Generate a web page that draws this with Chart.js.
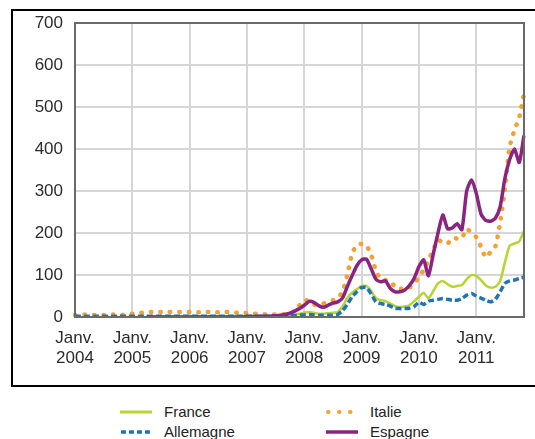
<!DOCTYPE html>
<html>
<head>
<meta charset="utf-8">
<script src="https://cdn.jsdelivr.net/npm/chart.js@4.4.1/dist/chart.umd.min.js"></script>
<style>
  body { margin: 0; background: #fff; width: 535px; height: 439px; overflow: hidden; position: relative; font-family: "Liberation Sans", Arial, sans-serif; }
  #box { position: absolute; left: 11px; top: 9px; width: 540px; height: 374px; border: 2px solid #000; }
  #wrap { position: absolute; left: 0; top: 0; width: 535px; height: 390px; }
  .leg { position: absolute; font-size: 15px; color: #222; line-height: 18px; }
  .leg svg { position: absolute; top: 5px; }
  .leg span { position: absolute; white-space: nowrap; }
</style>
</head>
<body>
<div id="box"></div>
<div id="wrap"><canvas id="myChart" width="535" height="390"></canvas></div>

<div class="leg" style="left:120px; top:403px;">
  <svg width="34" height="8"><line x1="0" y1="4" x2="32" y2="4" stroke="#b8d432" stroke-width="3"/></svg>
  <span style="left:44px;">France</span>
</div>
<div class="leg" style="left:120px; top:423px;">
  <svg width="34" height="8"><line x1="1" y1="4" x2="32" y2="4" stroke="#1f74b5" stroke-width="3.5" stroke-dasharray="5,3"/></svg>
  <span style="left:44px;">Allemagne</span>
</div>
<div class="leg" style="left:326px; top:403px;">
  <svg width="34" height="8"><line x1="2" y1="4" x2="30" y2="4" stroke="#f7a032" stroke-width="4" stroke-linecap="round" stroke-dasharray="0.5,10.5"/></svg>
  <span style="left:44px;">Italie</span>
</div>
<div class="leg" style="left:326px; top:423px;">
  <svg width="34" height="8"><line x1="0" y1="4" x2="32" y2="4" stroke="#8a2480" stroke-width="3.5"/></svg>
  <span style="left:44px;">Espagne</span>
</div>

<script>
// data block (monthly, Jan 2004 - Nov 2011)
const years = ['2004', '2005', '2006', '2007', '2008', '2009', '2010', '2011'];
const monthsInLastYear = 11;
const yTicks = [0, 100, 200, 300, 400, 500, 600, 700];

const france = [
  null, null, null, null, null, null, null, null, null, null, null, null,
  null, null, null, 1, 1, 1, 1, 1, 1, 1, 1, 1,
  1, 1, 1, 1, 1, 1, 1, 1, 1, 1, 1, 1,
  1, 1, 1, 1, 1, 1, 2, 2, 3, 4, 6, 8,
  10, 12, 10, 8, 8, 9, 10, 12, 25, 45, 58, 66,
  74, 74, 62, 45, 40, 38, 32, 26, 24, 25, 28, 38,
  48, 58, 45, 62, 80, 86, 78, 72, 74, 76, 90, 100,
  98, 88, 75, 70, 72, 85, 130, 170, 175, 180, 205
];
const italie = [
  5, 5, 6, 5, 5, 6, 5, 5, 6, 5, 5, 6,
  8, 9, 10, 12, 12, 12, 12, 11, 12, 12, 12, 12,
  12, 12, 11, 12, 12, 12, 11, 12, 12, 11, 10, 10,
  9, 8, 8, 7, 6, 6, 6, 6, 7, 8, 15, 28,
  40, 38, 30, 28, 32, 37, 40, 45, 60, 100, 150, 172,
  174, 170, 148, 110, 90, 88, 85, 72, 68, 66, 70, 80,
  95, 112, 136, 160, 183, 178, 175, 188, 187, 188, 210, 200,
  190, 167, 142, 155, 168, 225, 305, 405, 445, 475, 532
];
const allemagne = [
  2, 2, 2, 2, 2, 2, 2, 2, 2, 2, 2, 2,
  2, 2, 2, 2, 2, 2, 2, 2, 2, 2, 2, 2,
  2, 2, 2, 2, 2, 2, 2, 2, 2, 2, 2, 2,
  2, 2, 2, 2, 2, 2, 3, 3, 3, 3, 3, 4,
  5, 6, 5, 4, 4, 4, 4, 6, 15, 30, 48, 60,
  70, 70, 55, 36, 32, 30, 26, 21, 20, 20, 21, 25,
  35, 30, 38, 40, 42, 44, 42, 40, 40, 44, 52, 56,
  50, 45, 40, 36, 42, 60, 80, 86, 88, 92, 95
];
const espagne = [
  null, null, null, null, null, null, null, null, null, null, null, null,
  null, null, null, 0, 0, 0, 0, 0, 0, 0, 0, 0,
  0, 0, 0, 0, 0, 0, 0, 0, 0, 0, 0, 0,
  1, 1, 1, 2, 2, 2, 3, 4, 6, 9, 14, 20,
  28, 37, 35, 27, 23, 28, 33, 36, 45, 72, 98, 122,
  136, 138, 115, 90, 84, 86, 68, 60, 60, 64, 75, 92,
  120, 136, 98, 150, 200, 243, 210, 212, 222, 208, 300, 326,
  295, 245, 230, 228, 235, 262, 330, 375, 400, 368, 432
];

// month labels, one per point
const labels = [];
years.forEach((y, i) => {
  const n = i === years.length - 1 ? monthsInLastYear : 12;
  for (let m = 0; m < n; m++) labels.push(y + '-' + (m + 1));
});

// frame of the plot area
const plotFrame = {
  id: 'plotFrame',
  afterDraw(chart) {
    const {ctx, chartArea: {left, top, right, bottom}} = chart;
    ctx.save();
    ctx.strokeStyle = '#6a6a6a';
    ctx.lineWidth = 2;
    ctx.strokeRect(left, top, right - left, bottom - top);
    ctx.restore();
  }
};

const gridColor = '#d6d6d6';
const tickFont = {family: '"Liberation Sans", Arial, sans-serif', size: 17};

const config = {
  type: 'line',
  data: {
    labels,
    datasets: [
      {label: 'Espagne', data: espagne, borderColor: '#8a2480', borderWidth: 3.5},
      {label: 'Allemagne', data: allemagne, borderColor: '#1f74b5', borderWidth: 3.5, borderDash: [6, 3]},
      {label: 'Italie', data: italie, borderColor: '#f7a032', borderWidth: 4.5, borderDash: [0.5, 9], borderCapStyle: 'round'},
      {label: 'France', data: france, borderColor: '#b8d432', borderWidth: 2.5}
    ]
  },
  options: {
    responsive: false,
    animation: false,
    elements: {
      point: {radius: 0},
      line: {tension: 0.2, fill: false}
    },
    layout: {padding: {left: 0, top: 23, right: 8, bottom: 0}},
    plugins: {
      legend: {display: false},
      tooltip: {enabled: false}
    },
    scales: {
      x: {
        grid: {
          color: (c) => (c.index % 12 === 0 ? gridColor : 'transparent'),
          lineWidth: 2,
          drawTicks: false
        },
        border: {display: false},
        ticks: {
          autoSkip: false,
          maxRotation: 0,
          padding: 11,
          color: '#2b2b2b',
          font: tickFont,
          callback: (v, i) => (i % 12 === 0 ? ['Janv.', years[i / 12]] : '')
        },
        afterFit: (s) => { s.height = 73; }
      },
      y: {
        min: yTicks[0],
        max: yTicks[yTicks.length - 1],
        afterBuildTicks: (s) => { s.ticks = yTicks.map(v => ({value: v})); },
        grid: {color: gridColor, lineWidth: 2, drawTicks: false},
        border: {display: false},
        ticks: {padding: 12, color: '#2b2b2b', font: tickFont},
        afterFit: (s) => { s.width = 75; }
      }
    }
  },
  plugins: [plotFrame]
};

const myChart = new Chart(document.getElementById('myChart'), config);
</script>
</body>
</html>
